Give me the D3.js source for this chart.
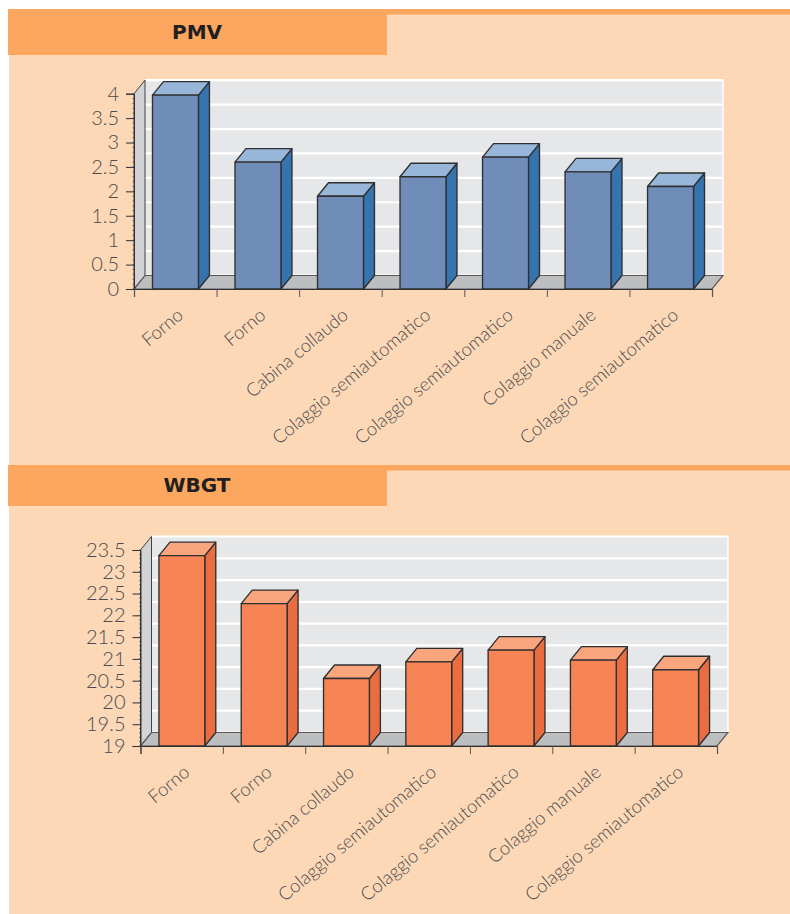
<!DOCTYPE html>
<html><head><meta charset="utf-8">
<style>
html,body{margin:0;padding:0;background:#fff}
svg{display:block}
text{font-family:Lato,sans-serif}
</style>
<script src="https://cdn.jsdelivr.net/npm/d3@7"></script>
</head><body>
<svg id="c" width="790" height="914"></svg>
<script>
const categories = ["Forno","Forno","Cabina collaudo","Colaggio semiautomatico","Colaggio semiautomatico","Colaggio manuale","Colaggio semiautomatico"];
const pmvValues = [3.97,2.6,1.9,2.3,2.7,2.4,2.1];
const wbgtValues = [23.37,22.27,20.55,20.93,21.2,20.97,20.75];
const pmvTicks = [0,0.5,1,1.5,2,2.5,3,3.5,4];
const wbgtTicks = [19,19.5,20,20.5,21,21.5,22,22.5,23,23.5];

const svg = d3.select("#c");
const DX = 11, DY = 13.5;
const PANEL = "#fdd8b7", HEAD = "#fba75f", INK = "#2f2f31", TXT = "#4b4b4e";

svg.append("rect").attr("x",9).attr("y",9).attr("width",781).attr("height",905).attr("fill",PANEL);

function header(title, top, bottom){
  svg.append("rect").attr("x",9).attr("y",top).attr("width",781).attr("height",5.5).attr("fill",HEAD);
  svg.append("rect").attr("x",8).attr("y",top).attr("width",379).attr("height",bottom-top).attr("fill",HEAD);
  svg.append("text").attr("x",197).attr("y",(top+bottom)/2+6.5).attr("text-anchor","middle")
    .style("font-family","'DejaVu Sans'")
    .attr("font-size",20).attr("font-weight",700).attr("fill","#231f20").text(title);
}
header("PMV",9,55);
header("WBGT",465,506);

function chart(o){
  const g = svg.append("g");
  const y = d3.scaleLinear().domain(o.domain).range([o.y0,o.y1]);
  const edge = d3.scaleLinear().domain([0,categories.length]).range([o.x0,o.x1]);
  const x = d3.scaleBand().domain(d3.range(categories.length)).range([o.x0,o.x1]).paddingInner(0.443).paddingOuter(0.224);
  const line = d3.line();
  const yB = y.range()[0], yT = y.range()[1];
  g.append("path").attr("d",line([[o.x0+DX,yT-DY],[o.x1+DX,yT-DY],[o.x1+DX,yB-DY],[o.x0+DX,yB-DY]])+"Z").attr("fill","#e6e7e9");
  g.selectAll("line.g").data(o.ticks).join("line").attr("x1",o.x0+DX).attr("x2",o.x1+DX)
    .attr("y1",d=>y(d)-DY).attr("y2",d=>y(d)-DY).attr("stroke","#fff").attr("stroke-width",2.2);
  g.append("line").attr("x1",o.x1+DX).attr("x2",o.x1+DX).attr("y1",yT-DY-1).attr("y2",yB-DY).attr("stroke","#fff").attr("stroke-width",1.5);
  g.append("path").attr("d",line([[o.x0,yB],[o.x0+DX,yB-DY],[o.x0+DX,yT-DY],[o.x0,yT]])+"Z")
    .attr("fill","#d1d3d4").attr("stroke",INK).attr("stroke-width",0.9);
  g.append("path").attr("d",line([[o.x0,yB],[o.x0+DX,yB-DY],[o.x1+DX,yB-DY],[o.x1,yB]])+"Z")
    .attr("fill","#bcbec0").attr("stroke","#58595b").attr("stroke-width",1.2);
  const bars = g.selectAll("g.b").data(o.values).join("g");
  const poly = (pts,fill)=>bars.append("path").attr("d",(d,i)=>line(pts(x(i),x(i)+x.bandwidth(),y(d)))+"Z")
     .attr("fill",fill).attr("stroke",INK).attr("stroke-width",1.35).attr("stroke-linejoin","round");
  poly((a,b,t)=>[[b,yB],[b+DX,yB-DY],[b+DX,t-DY],[b,t]],o.side);
  poly((a,b,t)=>[[a,t],[a+DX,t-DY],[b+DX,t-DY],[b,t]],o.top);
  poly((a,b,t)=>[[a,yB],[a,t],[b,t],[b,yB]],o.front);
  const minor = d3.range(o.domain[0],o.domain[1]+1e-6,(o.ticks[1]-o.ticks[0])/5);
  g.selectAll("line.m").data(minor).join("line").attr("x1",o.x0-1.5).attr("x2",o.x0)
    .attr("y1",d=>y(d)).attr("y2",d=>y(d)).attr("stroke",INK).attr("stroke-width",0.6);
  const ax = g.append("g").attr("transform",`translate(${o.x0},0)`)
    .call(d3.axisLeft(y).tickValues(o.ticks).tickSize(8).tickPadding(7).tickFormat(d3.format("~g")));
  ax.select(".domain").attr("stroke",INK).attr("stroke-width",1);
  ax.selectAll(".tick line").attr("stroke",INK).attr("stroke-width",1);
  ax.selectAll("text").attr("font-family","Lato").attr("font-weight",300).attr("font-size",20).attr("fill",TXT);
  const bx = g.append("g").attr("transform",`translate(0,${yB})`)
    .call(d3.axisBottom(edge).tickValues(d3.range(categories.length+1)).tickSize(8).tickFormat(""));
  bx.select(".domain").attr("stroke",INK).attr("stroke-width",1.2);
  bx.selectAll(".tick line").attr("stroke","#55565a").attr("stroke-width",1);
  g.selectAll("text.c").data(categories).join("text")
    .attr("class","c")
    .attr("transform",(d,i)=>`translate(${x(i)+x.bandwidth()/2+9},${yB+28}) rotate(-40)`)
    .attr("text-anchor","end").attr("font-weight",300).attr("font-size",18.5).attr("fill",TXT).text(d=>d);
}

chart({domain:[0,4],values:pmvValues,ticks:pmvTicks,x0:134,x1:712,y0:289,y1:93.7,front:"#6f8db8",top:"#97b6d9",side:"#3574ae"});
chart({domain:[19,23.5],values:wbgtValues,ticks:wbgtTicks,x0:140.5,x1:717,y0:746,y1:550,front:"#f78455",top:"#f9a67f",side:"#e96d41"});
</script>
</body></html>
